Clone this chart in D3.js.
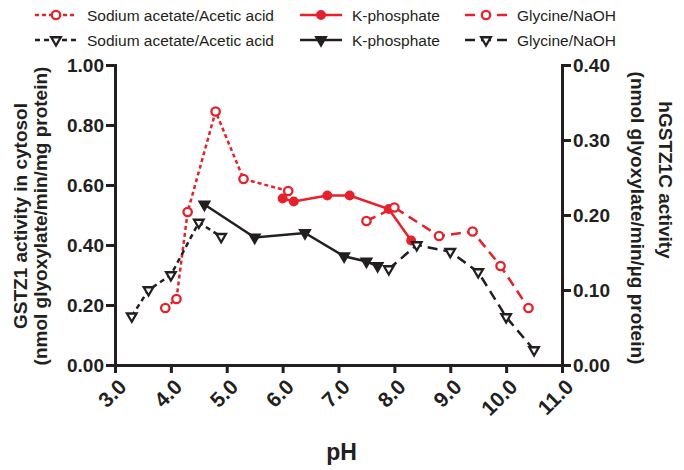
<!DOCTYPE html>
<html>
<head>
<meta charset="utf-8">
<script src="https://cdn.jsdelivr.net/npm/d3@7"></script>
<style>
  body { margin: 0; background: #fff; }
  text { font-family: "Liberation Sans", Arial, sans-serif; }
</style>
</head>
<body>
<div id="chart"></div>
<script>
// data
const xTicks = [3, 4, 5, 6, 7, 8, 9, 10, 11];
const leftTicks = [0, 0.2, 0.4, 0.6, 0.8, 1.0];
const rightTicks = [0, 0.1, 0.2, 0.3, 0.4];

// GSTZ1 in cytosol (left axis, red)
const acetatePhRed = [3.9, 4.1, 4.3, 4.8, 5.3, 6.1];
const acetateRed = [0.19, 0.22, 0.51, 0.845, 0.62, 0.58];
const kphosPhRed = [6.0, 6.2, 6.8, 7.2, 7.9, 8.3];
const kphosRed = [0.555, 0.545, 0.565, 0.565, 0.52, 0.415];
const glyPhRed = [7.5, 8.0, 8.8, 9.4, 9.9, 10.4];
const glyRed = [0.48, 0.525, 0.43, 0.445, 0.33, 0.19];

// hGSTZ1C (right axis, black)
const acetatePhBlk = [3.3, 3.6, 4.0, 4.5, 4.9];
const acetateBlk = [0.065, 0.10, 0.12, 0.19, 0.171];
const kphosPhBlk = [4.6, 5.5, 6.4, 7.1, 7.5, 7.7];
const kphosBlk = [0.214, 0.17, 0.176, 0.145, 0.138, 0.132];
const glyPhBlk = [7.9, 8.4, 9.0, 9.5, 10.0, 10.5];
const glyBlk = [0.128, 0.16, 0.151, 0.124, 0.064, 0.02];

const RED = "#e8202a", BLK = "#231f20";

const W = 684, H = 470;
const margin = { top: 65, right: 122, bottom: 105, left: 115 },
    width = W - margin.left - margin.right,
    height = H - margin.top - margin.bottom;

const svg = d3.select("#chart").append("svg")
    .attr("width", W).attr("height", H);
const g = svg.append("g")
    .attr("transform", `translate(${margin.left},${margin.top})`);

const x = d3.scaleLinear().domain([3, 11]).range([0, width]);
const yL = d3.scaleLinear().domain([0, 1]).range([height, 0]);
const yR = d3.scaleLinear().domain([0, 0.4]).range([height, 0]);

// axes
function styleAxis(sel, size) {
    sel.select(".domain").attr("stroke", BLK).attr("stroke-width", 3);
    sel.selectAll(".tick line").attr("stroke", BLK).attr("stroke-width", 3);
    sel.selectAll(".tick text").attr("fill", BLK)
        .style("font-size", size + "px").style("font-weight", "bold")
        .style("font-family", "Liberation Sans, Arial, sans-serif");
}
const xAxis = g.append("g")
    .attr("transform", `translate(0,${height})`)
    .call(d3.axisBottom(x).tickValues(xTicks).tickFormat(d3.format(".1f")).tickSizeOuter(0).tickSize(8))
    .call(styleAxis, 21);
xAxis.selectAll(".tick text")
    .attr("text-anchor", "end")
    .attr("transform", "translate(7,18)rotate(-45)")
    .attr("dy", "0.35em").attr("x", 0).attr("y", 0);

g.append("g")
    .call(d3.axisLeft(yL).tickValues(leftTicks).tickFormat(d3.format(".2f")).tickSizeOuter(0).tickSize(9).tickPadding(2))
    .call(styleAxis, 19);
g.append("g")
    .attr("transform", `translate(${width},0)`)
    .call(d3.axisRight(yR).tickValues(rightTicks).tickFormat(d3.format(".2f")).tickSizeOuter(0).tickSize(9).tickPadding(2))
    .call(styleAxis, 19);

// axis titles
svg.append("text")
    .attr("x", margin.left + width / 2 + 3).attr("y", 460)
    .attr("text-anchor", "middle")
    .style("font-size", "23px").style("font-weight", "bold").attr("fill", BLK)
    .text("pH");

function title(tx, ty, rot, txt) {
    svg.append("text")
        .attr("transform", `translate(${tx},${ty})rotate(${rot})`)
        .attr("text-anchor", "middle")
        .style("font-size", "19px").style("font-weight", "bold").attr("fill", BLK)
        .text(txt);
}
title(27, 216, -90, "GSTZ1 activity in cytosol");
title(47, 216, -90, "(nmol glyoxylate/min/mg protein)");
title(659, 180, 90, "hGSTZ1C activity");
title(631, 218, 90, "(nmol glyoxylate/min/\u00b5g protein)");

// series
const series = [
    { ph: acetatePhRed, v: acetateRed, y: yL, color: RED, dash: "4,3", mark: "circle", fill: "#fff" },
    { ph: kphosPhRed, v: kphosRed, y: yL, color: RED, dash: null, mark: "circle", fill: RED },
    { ph: glyPhRed, v: glyRed, y: yL, color: RED, dash: "10,6", mark: "circle", fill: "#fff" },
    { ph: acetatePhBlk, v: acetateBlk, y: yR, color: BLK, dash: "5,4", mark: "tri", fill: "#fff" },
    { ph: kphosPhBlk, v: kphosBlk, y: yR, color: BLK, dash: null, mark: "tri", fill: BLK },
    { ph: glyPhBlk, v: glyBlk, y: yR, color: BLK, dash: "10,6", mark: "tri", fill: "#fff" }
];

const tri = d3.symbol().type(d3.symbolTriangle).size(40);

function drawMarker(sel, s) {
    if (s.mark === "circle") {
        sel.append("circle").attr("r", s.fill === RED ? 3.8 : 4.2)
            .attr("fill", s.fill).attr("stroke", s.color).attr("stroke-width", 2.3);
    } else {
        sel.append("path").attr("d", tri).attr("transform", "rotate(180)")
            .attr("fill", s.fill).attr("stroke", s.color).attr("stroke-width", 2.3);
    }
}

series.forEach(s => {
    const pts = s.ph.map((p, i) => [p, s.v[i]]);
    g.append("path")
        .datum(pts)
        .attr("fill", "none")
        .attr("stroke", s.color)
        .attr("stroke-width", 2.5)
        .attr("stroke-dasharray", s.dash)
        .attr("d", d3.line().x(d => x(d[0])).y(d => s.y(d[1])));
    g.selectAll(null)
        .data(pts)
        .join("g")
        .attr("transform", d => `translate(${x(d[0])},${s.y(d[1])})`)
        .each(function () { drawMarker(d3.select(this), s); });
});

// legend
const legendNames = ["Sodium acetate/Acetic acid", "K-phosphate", "Glycine/NaOH"];
const legendX = [35, 300, 465];
series.forEach((s, i) => {
    const col = i % 3, row = Math.floor(i / 3);
    const lg = svg.append("g")
        .attr("transform", `translate(${legendX[col]},${row === 0 ? 15 : 40})`);
    lg.append("line").attr("x1", 0).attr("x2", 42).attr("y1", 0).attr("y2", 0)
        .attr("stroke", s.color).attr("stroke-width", 2.5)
        .attr("stroke-dasharray", s.dash);
    const m = lg.append("g").attr("transform", "translate(21,0)");
    drawMarker(m, s);
    lg.append("text").attr("x", 52).attr("y", 5.5)
        .style("font-size", "15.5px").attr("fill", BLK)
        .text(legendNames[col]);
});
</script>
</body>
</html>
